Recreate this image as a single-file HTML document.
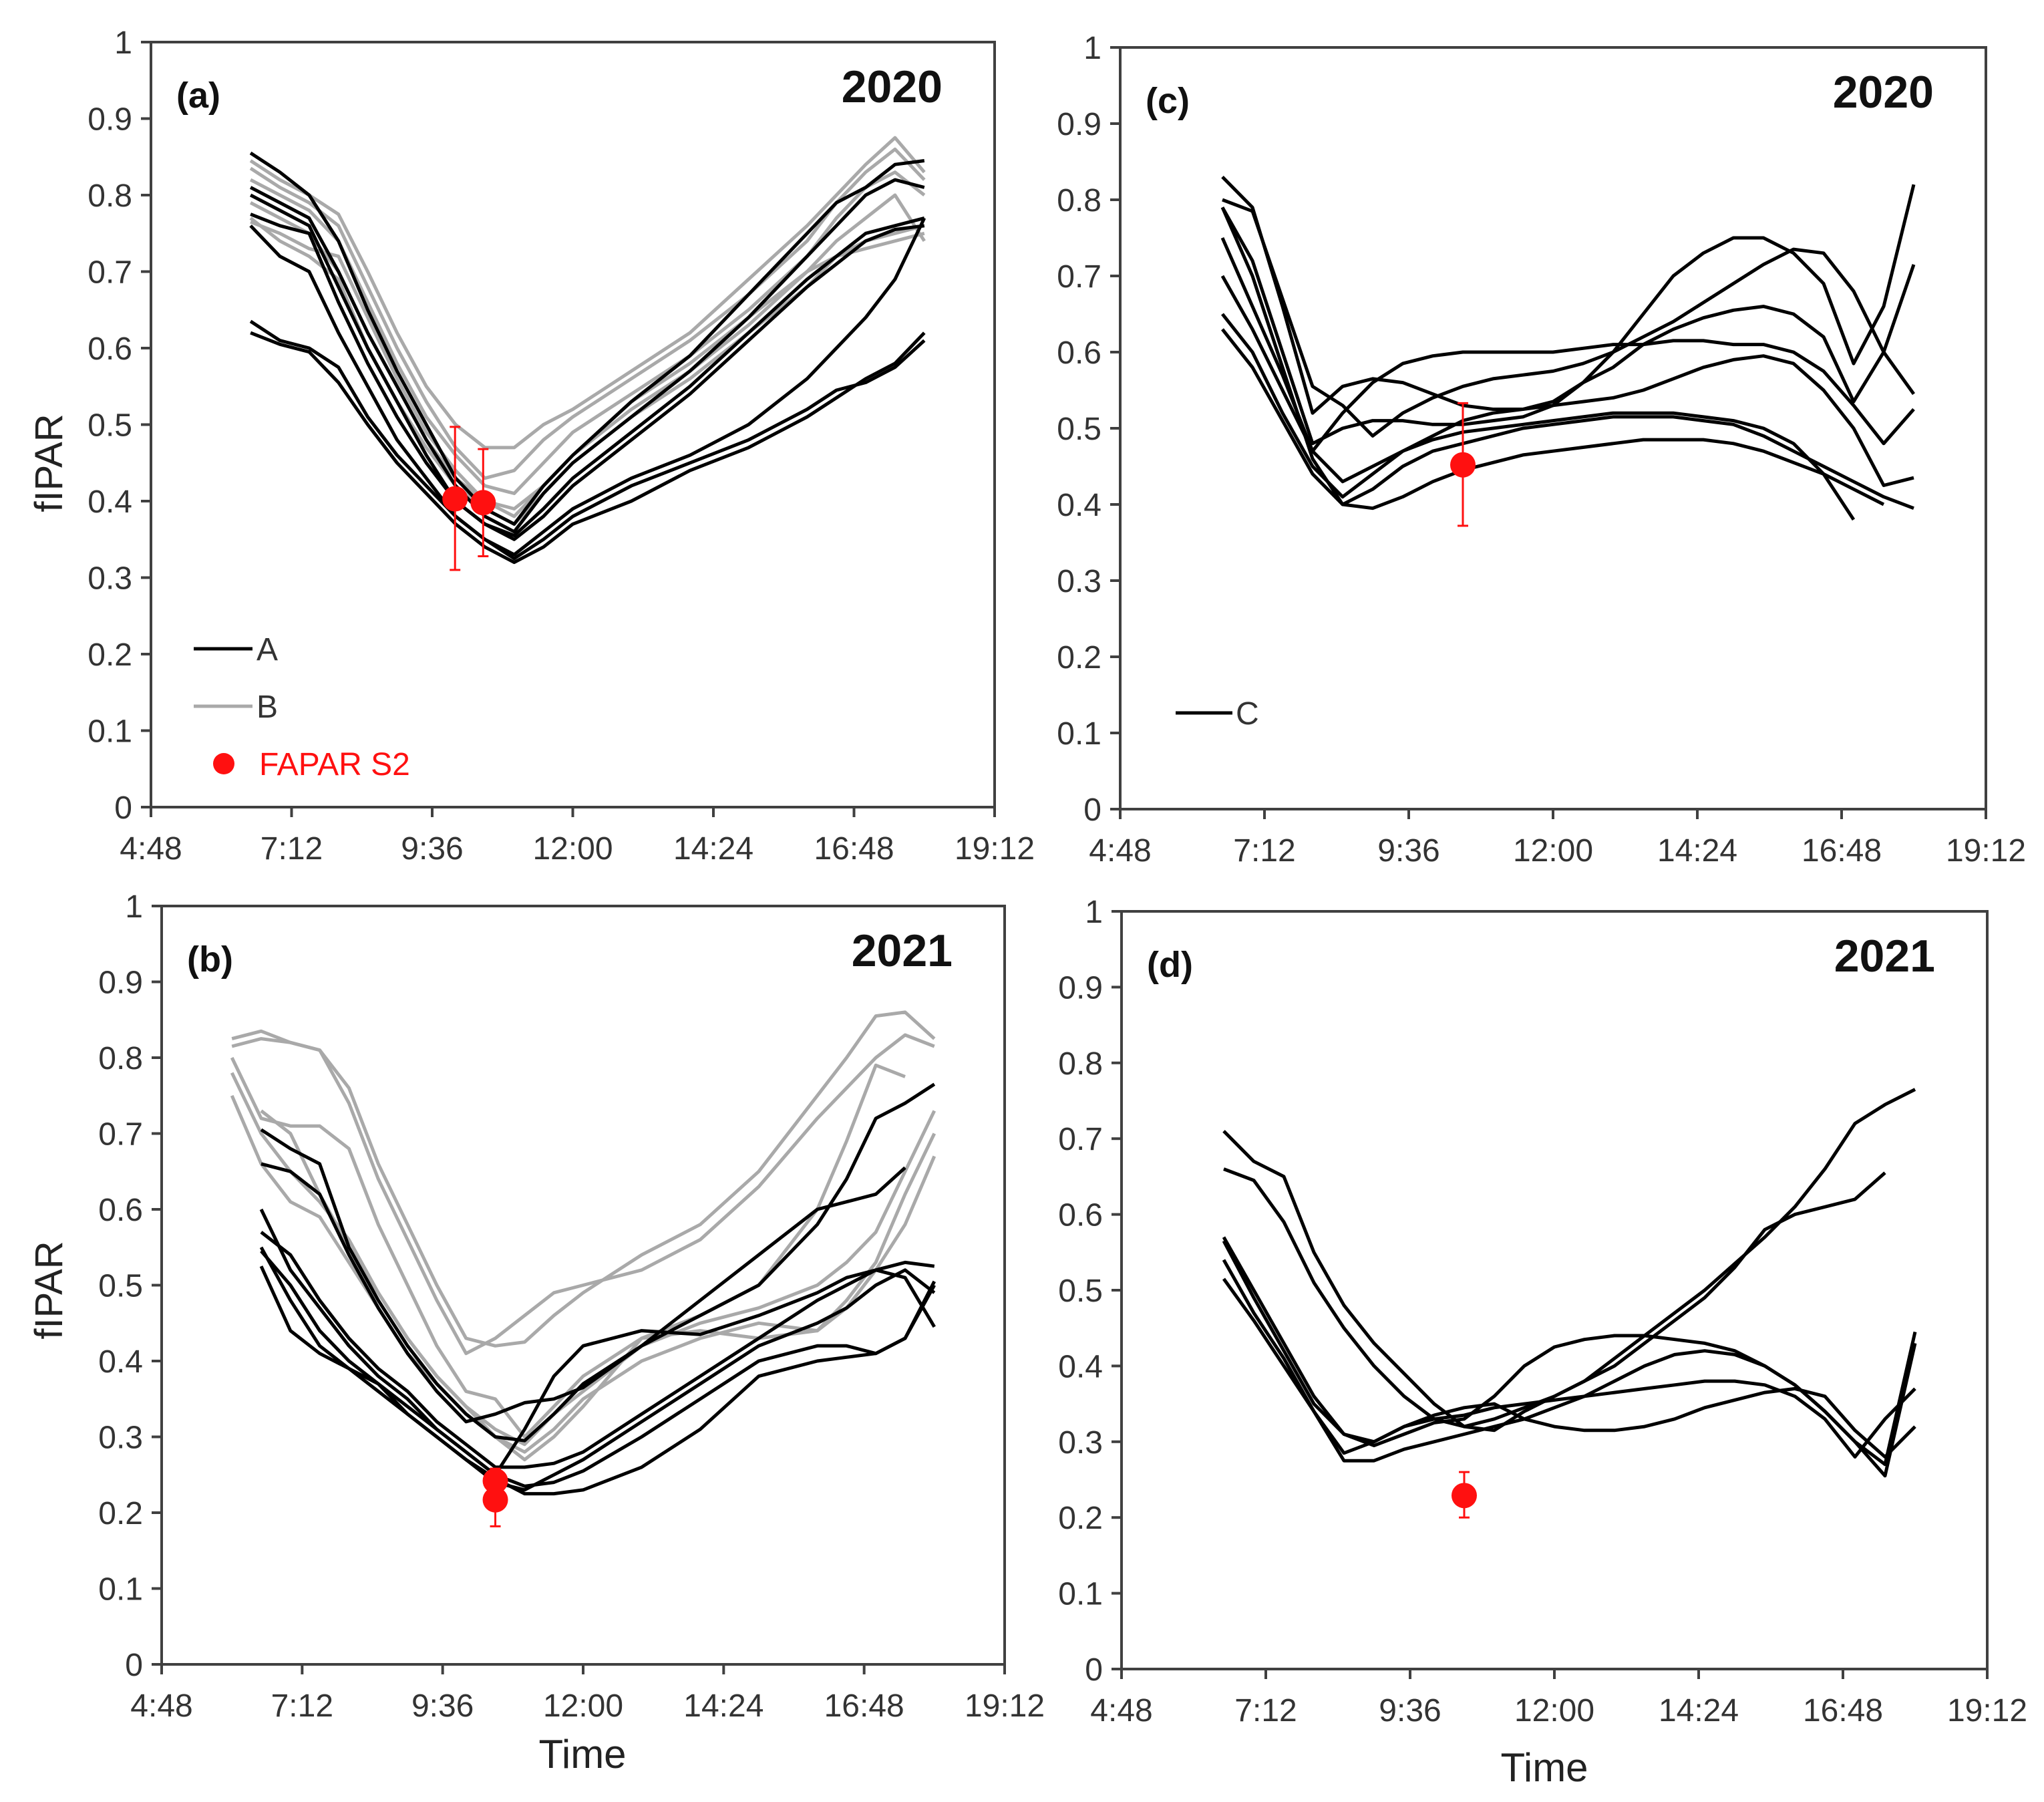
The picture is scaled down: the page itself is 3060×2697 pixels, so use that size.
<!DOCTYPE html>
<html><head><meta charset="utf-8"><style>
html,body{margin:0;padding:0;background:#fff;}
svg{display:block;}
text{font-family:"Liberation Sans",Arial,sans-serif;}
</style></head><body>
<svg id="fig" width="3060" height="2697" viewBox="0 0 3060 2697" xmlns="http://www.w3.org/2000/svg"></svg>
<script>
// ---- shared ticks ----
const xTickHours = [4.8, 7.2, 9.6, 12.0, 14.4, 16.8, 19.2];
const xTickLabels = ["4:48","7:12","9:36","12:00","14:24","16:48","19:12"];
const yTickValues = [0,0.1,0.2,0.3,0.4,0.5,0.6,0.7,0.8,0.9,1];
const yTickLabels = ["0","0.1","0.2","0.3","0.4","0.5","0.6","0.7","0.8","0.9","1"];

// ---- panel (a) 2020 ----
const timesA = [6.5,7,7.5,8,8.5,9,9.5,10,10.5,11,11.5,12,13,14,15,16,16.5,17,17.5,18];
const aBlack1 = [0.855,0.83,0.80,0.74,0.65,0.57,0.50,0.43,0.39,0.37,0.42,0.46,0.53,0.59,0.67,0.75,0.79,0.81,0.84,0.845];
const aBlack2 = [0.81,0.79,0.77,0.70,0.62,0.55,0.48,0.42,0.38,0.36,0.41,0.45,0.51,0.57,0.64,0.72,0.76,0.80,0.82,0.81];
const aBlack3 = [0.80,0.78,0.76,0.68,0.60,0.53,0.46,0.40,0.37,0.355,0.39,0.43,0.49,0.55,0.62,0.69,0.72,0.75,0.76,0.77];
const aBlack4 = [0.775,0.76,0.75,0.66,0.58,0.51,0.45,0.40,0.37,0.35,0.38,0.42,0.48,0.54,0.61,0.68,0.71,0.74,0.755,0.76];
const aBlack5 = [0.76,0.72,0.70,0.62,0.55,0.48,0.43,0.38,0.35,0.33,0.36,0.39,0.43,0.46,0.50,0.56,0.60,0.64,0.69,0.77];
const aBlack6 = [0.635,0.61,0.60,0.575,0.51,0.46,0.42,0.38,0.35,0.325,0.35,0.38,0.42,0.45,0.48,0.52,0.545,0.555,0.575,0.61];
const aBlack7 = [0.62,0.605,0.595,0.555,0.50,0.45,0.41,0.37,0.34,0.32,0.34,0.37,0.40,0.44,0.47,0.51,0.535,0.56,0.58,0.62];
const aGray1 = [0.845,0.82,0.80,0.775,0.70,0.62,0.55,0.50,0.47,0.47,0.50,0.52,0.57,0.62,0.69,0.76,0.80,0.84,0.875,0.83];
const aGray2 = [0.835,0.81,0.79,0.76,0.68,0.60,0.53,0.47,0.43,0.44,0.48,0.51,0.56,0.61,0.67,0.74,0.79,0.83,0.86,0.82];
const aGray3 = [0.82,0.80,0.78,0.74,0.66,0.58,0.51,0.46,0.42,0.41,0.45,0.49,0.54,0.59,0.65,0.72,0.77,0.81,0.83,0.80];
const aGray4 = [0.79,0.77,0.75,0.70,0.62,0.55,0.48,0.43,0.40,0.38,0.42,0.46,0.52,0.57,0.63,0.70,0.74,0.77,0.80,0.74];
const aGray5 = [0.77,0.74,0.72,0.69,0.60,0.53,0.47,0.42,0.39,0.37,0.41,0.45,0.51,0.56,0.62,0.68,0.72,0.74,0.75,0.76];
const aGray6 = [0.765,0.75,0.73,0.72,0.64,0.56,0.49,0.44,0.40,0.39,0.42,0.46,0.53,0.58,0.64,0.70,0.72,0.73,0.74,0.75];
const aS2Time = [9.99, 10.47];
const aS2Value = [0.403, 0.398];
const aS2Low = [0.31, 0.328];
const aS2High = [0.497, 0.468];

// ---- panel (b) 2021 ----
const timesB = [6,6.5,7,7.5,8,8.5,9,9.5,10,10.5,11,11.5,12,13,14,15,16,16.5,17,17.5,18];
const bGray1 = [0.825,0.835,0.82,0.81,0.76,0.66,0.58,0.50,0.43,0.42,0.425,0.46,0.49,0.54,0.58,0.65,0.75,0.80,0.855,0.86,0.825];
const bGray2 = [0.815,0.825,0.82,0.81,0.74,0.64,0.56,0.48,0.41,0.43,0.46,0.49,0.50,0.52,0.56,0.63,0.72,0.76,0.80,0.83,0.815];
const bGray3 = [0.80,0.72,0.71,0.71,0.68,0.58,0.50,0.42,0.36,0.35,0.30,0.34,0.38,0.43,0.46,0.50,0.60,0.69,0.79,0.775,null];
const bGray4 = [0.78,0.70,0.65,0.61,0.56,0.49,0.43,0.38,0.34,0.31,0.29,0.33,0.36,0.42,0.45,0.47,0.50,0.53,0.57,0.65,0.73];
const bGray5 = [0.75,0.66,0.61,0.59,0.53,0.47,0.41,0.37,0.33,0.30,0.28,0.31,0.35,0.40,0.43,0.45,0.44,0.48,0.53,0.62,0.70];
const bGray6 = [null,0.73,0.70,0.62,0.55,0.49,0.43,0.38,0.34,0.30,0.27,0.30,0.34,0.43,0.44,0.43,0.44,0.47,0.52,0.58,0.67];
const bBlack1 = [null,0.705,0.68,0.66,0.55,0.48,0.42,0.37,0.33,0.30,0.295,0.33,0.37,0.42,0.46,0.50,0.58,0.64,0.72,0.74,0.765];
const bBlack2 = [null,0.66,0.65,0.62,0.54,0.47,0.41,0.36,0.32,0.33,0.345,0.35,0.365,0.42,0.48,0.54,0.60,0.61,0.62,0.655,null];
const bBlack3 = [null,0.60,0.52,0.47,0.42,0.38,0.35,0.31,0.28,0.25,0.31,0.38,0.42,0.44,0.435,0.46,0.49,0.51,0.52,0.53,0.525];
const bBlack4 = [null,0.57,0.54,0.48,0.43,0.39,0.36,0.32,0.29,0.26,0.26,0.265,0.28,0.33,0.38,0.43,0.48,0.50,0.52,0.51,0.445];
const bBlack5 = [null,0.545,0.50,0.44,0.40,0.37,0.33,0.30,0.27,0.24,0.23,0.25,0.27,0.32,0.37,0.42,0.45,0.47,0.50,0.52,0.49];
const bBlack6 = [null,0.525,0.44,0.41,0.39,0.36,0.33,0.30,0.27,0.245,0.225,0.225,0.23,0.26,0.31,0.38,0.40,0.405,0.41,0.43,0.505];
const bBlack7 = [null,0.55,0.48,0.42,0.39,0.37,0.34,0.31,0.28,0.25,0.235,0.24,0.255,0.30,0.35,0.40,0.42,0.42,0.41,0.43,0.50];
const bS2Time = [10.5, 10.5];
const bS2Value = [0.242, 0.217];
const bS2Low = [0.225, 0.182];
const bS2High = [0.258, 0.24];

// ---- panel (c) 2020 ----
const timesC = [6.5,7,7.5,8,8.5,9,9.5,10,10.5,11,11.5,12,12.5,13,13.5,14,14.5,15,15.5,16,16.5,17,17.5,18];
const cLine1 = [0.83,0.79,0.66,0.52,0.555,0.565,0.56,0.545,0.53,0.525,0.525,0.535,0.56,0.60,0.65,0.70,0.73,0.75,0.75,0.73,0.69,0.585,0.66,0.82];
const cLine2 = [0.80,0.785,0.67,0.555,0.53,0.49,0.52,0.54,0.555,0.565,0.57,0.575,0.585,0.60,0.62,0.64,0.665,0.69,0.715,0.735,0.73,0.68,0.60,0.545];
const cLine3 = [0.79,0.72,0.60,0.48,0.50,0.51,0.51,0.505,0.505,0.51,0.515,0.53,0.56,0.58,0.61,0.63,0.645,0.655,0.66,0.65,0.62,0.535,0.60,0.715];
const cLine4 = [0.75,0.66,0.57,0.47,0.52,0.56,0.585,0.595,0.60,0.60,0.60,0.60,0.605,0.61,0.61,0.615,0.615,0.61,0.61,0.60,0.575,0.53,0.48,0.525];
const cLine5 = [0.70,0.63,0.55,0.47,0.43,0.45,0.47,0.49,0.51,0.52,0.525,0.53,0.535,0.54,0.55,0.565,0.58,0.59,0.595,0.585,0.55,0.50,0.425,0.435];
const cLine6 = [0.65,0.60,0.52,0.45,0.41,0.44,0.47,0.485,0.495,0.50,0.505,0.51,0.515,0.52,0.52,0.52,0.515,0.51,0.50,0.48,0.44,0.38,null,null];
const cLine7 = [0.63,0.58,0.51,0.44,0.40,0.42,0.45,0.47,0.48,0.49,0.50,0.505,0.51,0.515,0.515,0.515,0.51,0.505,0.49,0.47,0.45,0.43,0.41,0.395];
const cLine8 = [0.79,0.70,0.58,0.46,0.40,0.395,0.41,0.43,0.445,0.455,0.465,0.47,0.475,0.48,0.485,0.485,0.485,0.48,0.47,0.455,0.44,0.42,0.40,null];
const cS2Time = [10.5];
const cS2Value = [0.452];
const cS2Low = [0.372];
const cS2High = [0.533];

// ---- panel (d) 2021 ----
const timesD = [6.5,7,7.5,8,8.5,9,9.5,10,10.5,11,11.5,12,12.5,13,13.5,14,14.5,15,15.5,16,16.5,17,17.5,18];
const dLine1 = [0.71,0.67,0.65,0.55,0.48,0.43,0.39,0.35,0.32,0.315,0.34,0.36,0.38,0.40,0.43,0.46,0.49,0.53,0.58,0.60,0.61,0.62,0.655,null];
const dLine2 = [0.66,0.645,0.59,0.51,0.45,0.40,0.36,0.33,0.32,0.33,0.345,0.36,0.38,0.41,0.44,0.47,0.50,0.535,0.57,0.61,0.66,0.72,0.745,0.765];
const dLine3 = [0.57,0.50,0.43,0.36,0.31,0.295,0.31,0.325,0.33,0.36,0.40,0.425,0.435,0.44,0.44,0.435,0.43,0.42,0.40,0.375,0.34,0.30,0.27,0.445];
const dLine4 = [0.54,0.47,0.41,0.34,0.275,0.275,0.29,0.30,0.31,0.32,0.33,0.345,0.36,0.38,0.40,0.415,0.42,0.415,0.40,0.375,0.34,0.30,0.255,0.43];
const dLine5 = [0.515,0.46,0.40,0.34,0.285,0.30,0.32,0.33,0.335,0.345,0.35,0.355,0.36,0.365,0.37,0.375,0.38,0.38,0.375,0.36,0.33,0.28,0.33,0.37];
const dLine6 = [0.565,0.49,0.42,0.35,0.31,0.30,0.32,0.335,0.345,0.35,0.33,0.32,0.315,0.315,0.32,0.33,0.345,0.355,0.365,0.37,0.36,0.315,0.28,0.32];
const dS2Time = [10.5];
const dS2Value = [0.229];
const dS2Low = [0.20];
const dS2High = [0.26];

const NS = "http://www.w3.org/2000/svg";
const svg = document.getElementById('fig');
function mk(tag, attrs, parent){
  const e = document.createElementNS(NS, tag);
  for (const k in attrs) e.setAttribute(k, attrs[k]);
  (parent || svg).appendChild(e);
  return e;
}
const AX = "#404040";
const GRAY = "#a9a9a9";
const RED = "#ff1010";

function panel(cfg){
  const g = mk('g', {});
  
  
  const xs = h => cfg.L + (h - 4.8) / (19.2 - 4.8) * (cfg.R - cfg.L);
  const ys = v => cfg.B - v * (cfg.B - cfg.T);
  const fr = mk('rect', {x:cfg.L, y:cfg.T, width:cfg.R-cfg.L, height:cfg.B-cfg.T, fill:'none', stroke:AX, 'stroke-width':4}, g);
  
  
  yTickValues.forEach((v, i) => {
    mk('line', {x1:cfg.L-15, x2:cfg.L, y1:ys(v), y2:ys(v), stroke:AX, 'stroke-width':4}, g);
    const t = mk('text', {x:cfg.L-28, y:ys(v)+17, 'text-anchor':'end', 'font-size':48, fill:'#333'}, g);
    t.textContent = yTickLabels[i];
    
    
  });
  xTickHours.forEach((h, i) => {
    mk('line', {x1:xs(h), x2:xs(h), y1:cfg.B, y2:cfg.B+15, stroke:AX, 'stroke-width':4}, g);
    const t = mk('text', {x:xs(h), y:cfg.B+78, 'text-anchor':'middle', 'font-size':48, fill:'#333'}, g);
    t.textContent = xTickLabels[i];
    
    
  });
  cfg.series.forEach(s => {
    let d = '', pen = false;
    s.v.forEach((v, i) => {
      if (v === null) { pen = false; return; }
      d += (pen ? 'L' : 'M') + xs(s.t[i]).toFixed(1) + ' ' + ys(v).toFixed(1);
      pen = true;
    });
    const p = mk('path', {d:d, fill:'none', stroke:s.c, 'stroke-width':5, 'stroke-linejoin':'round'}, g);
    
    
  });
  cfg.s2.t.forEach((h, i) => {
    const x = xs(h);
    const eb = mk('g', {stroke:RED, 'stroke-width':3}, g);
    
    
    mk('line', {x1:x, x2:x, y1:ys(cfg.s2.lo[i]), y2:ys(cfg.s2.hi[i])}, eb);
    mk('line', {x1:x-8, x2:x+8, y1:ys(cfg.s2.lo[i]), y2:ys(cfg.s2.lo[i])}, eb);
    mk('line', {x1:x-8, x2:x+8, y1:ys(cfg.s2.hi[i]), y2:ys(cfg.s2.hi[i])}, eb);
    const c = mk('circle', {cx:x, cy:ys(cfg.s2.v[i]), r:19, fill:RED}, g);
    
    
  });
  const lab = mk('text', {x:cfg.L+38, y:cfg.T+98, 'font-size':54, 'font-weight':'bold', fill:'#111'}, g);
  lab.textContent = cfg.label;
  
  
  const yr = mk('text', {x:cfg.R-78, y:cfg.T+90, 'text-anchor':'end', 'font-size':68, 'font-weight':'bold', fill:'#111'}, g);
  yr.textContent = cfg.year;
  
  
  return g;
}
function ser(t, v, c, name){ return {t:t, v:v, c:c, name:name}; }

panel({id:'a', L:226, R:1489, T:63, B:1208, label:'(a)', year:'2020',
  series:[ser(timesA,aGray1,GRAY,'series-b'),ser(timesA,aGray2,GRAY,'series-b'),ser(timesA,aGray3,GRAY,'series-b'),
    ser(timesA,aGray4,GRAY,'series-b'),ser(timesA,aGray5,GRAY,'series-b'),ser(timesA,aGray6,GRAY,'series-b'),
    ser(timesA,aBlack1,'#000','series-a'),ser(timesA,aBlack2,'#000','series-a'),ser(timesA,aBlack3,'#000','series-a'),
    ser(timesA,aBlack4,'#000','series-a'),ser(timesA,aBlack5,'#000','series-a'),ser(timesA,aBlack6,'#000','series-a'),
    ser(timesA,aBlack7,'#000','series-a')],
  s2:{t:aS2Time, v:aS2Value, lo:aS2Low, hi:aS2High}});
panel({id:'b', L:242, R:1504, T:1356, B:2491, label:'(b)', year:'2021',
  series:[ser(timesB,bGray1,GRAY,'series-b'),ser(timesB,bGray2,GRAY,'series-b'),ser(timesB,bGray3,GRAY,'series-b'),
    ser(timesB,bGray4,GRAY,'series-b'),ser(timesB,bGray5,GRAY,'series-b'),ser(timesB,bGray6,GRAY,'series-b'),
    ser(timesB,bBlack1,'#000','series-a'),ser(timesB,bBlack2,'#000','series-a'),ser(timesB,bBlack3,'#000','series-a'),
    ser(timesB,bBlack4,'#000','series-a'),ser(timesB,bBlack5,'#000','series-a'),ser(timesB,bBlack6,'#000','series-a'),
    ser(timesB,bBlack7,'#000','series-a')],
  s2:{t:bS2Time, v:bS2Value, lo:bS2Low, hi:bS2High}});
panel({id:'c', L:1677, R:2973, T:71, B:1211, label:'(c)', year:'2020',
  series:[cLine1,cLine2,cLine3,cLine4,cLine5,cLine6,cLine7,cLine8].map(v => ser(timesC, v, '#000', 'series-c')),
  s2:{t:cS2Time, v:cS2Value, lo:cS2Low, hi:cS2High}});
panel({id:'d', L:1679, R:2975, T:1364, B:2498, label:'(d)', year:'2021',
  series:[dLine1,dLine2,dLine3,dLine4,dLine5,dLine6].map(v => ser(timesD, v, '#000', 'series-c')),
  s2:{t:dS2Time, v:dS2Value, lo:dS2Low, hi:dS2High}});

function txt(x, y, s, attrs, name){
  const t = mk('text', Object.assign({x:x, y:y}, attrs));
  t.textContent = s;
  
  
  return t;
}
txt(0, 0, 'fIPAR', {'font-size':58, fill:'#222', 'text-anchor':'middle', transform:'translate(93,693) rotate(-90)'}, 'y-axis-title');
txt(0, 0, 'fIPAR', {'font-size':58, fill:'#222', 'text-anchor':'middle', transform:'translate(93,1931) rotate(-90)'}, 'y-axis-title');
txt(872, 2646, 'Time', {'font-size':60, fill:'#222', 'text-anchor':'middle'}, 'x-axis-title');
txt(2312, 2666, 'Time', {'font-size':60, fill:'#222', 'text-anchor':'middle'}, 'x-axis-title');

let l;
l = mk('line', {x1:290, x2:378, y1:971, y2:971, stroke:'#000', 'stroke-width':5});


txt(384, 988, 'A', {'font-size':48, fill:'#333'}, 'legend-a-label');
l = mk('line', {x1:290, x2:378, y1:1057, y2:1057, stroke:GRAY, 'stroke-width':5});


txt(384, 1074, 'B', {'font-size':48, fill:'#333'}, 'legend-b-label');
l = mk('circle', {cx:335, cy:1143, r:16, fill:RED});


txt(388, 1160, 'FAPAR S2', {'font-size':48, fill:RED}, 'legend-fapar-label');
l = mk('line', {x1:1760, x2:1845, y1:1067, y2:1067, stroke:'#000', 'stroke-width':5});


txt(1850, 1084, 'C', {'font-size':48, fill:'#333'}, 'legend-c-label');
</script>
</body></html>
